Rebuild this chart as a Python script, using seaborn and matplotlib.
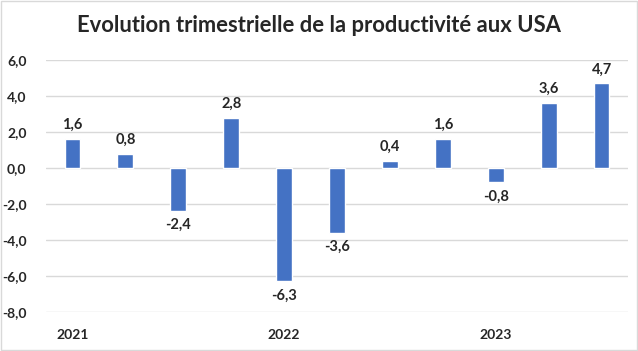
import matplotlib
matplotlib.use("Agg")
import matplotlib.pyplot as plt
import seaborn as sns
import pandas as pd

# Productivité trimestrielle USA (%)
quarters = ['T1 2021', 'T2 2021', 'T3 2021', 'T4 2021',
            'T1 2022', 'T2 2022', 'T3 2022', 'T4 2022',
            'T1 2023', 'T2 2023', 'T3 2023']
values = [1.6, 0.8, -2.4, 2.8, -6.3, -3.6, 0.4, 1.6, -0.8, 3.6, 4.7]
year_labels = ['2021', '', '', '', '2022', '', '', '', '2023', '', '']
yticks = [-8, -6, -4, -2, 0, 2, 4, 6]

df = pd.DataFrame({'Trimestre': quarters, 'Valeur': values})

sns.set_style("white")
plt.rcParams['font.family'] = ['Lato', 'DejaVu Sans']

fig = plt.figure(figsize=(6.38, 3.51), dpi=100)
ax = fig.add_axes([46 / 638, 1 - 312 / 351, 582 / 638, 252 / 351])

sns.barplot(data=df, x='Trimestre', y='Valeur', color='#4472C4',
            saturation=1, width=0.3, ax=ax, zorder=3)

ax.set_ylim(-8, 6)
ax.set_xlim(-0.5, len(quarters) - 0.5)
ax.set_yticks(yticks)
ax.set_yticklabels([f"{v:.1f}".replace('.', ',') for v in yticks],
                   fontsize=10, fontweight='bold')
ax.set_xticks(range(len(quarters)))
ax.set_xticklabels(year_labels, fontsize=10, fontweight='bold')
ax.tick_params(axis='both', length=0)
ax.tick_params(axis='x', pad=12)
ax.tick_params(axis='y', pad=14)
ax.yaxis.grid(True, color='#D9D9D9', linewidth=1, zorder=0)
ax.set_axisbelow(True)
for s in ax.spines.values():
    s.set_visible(False)
ax.set_xlabel('')
ax.set_ylabel('')

for i, v in enumerate(values):
    txt = f"{v:.1f}".replace('.', ',')
    if v >= 0:
        ax.annotate(txt, (i, v), xytext=(0, 5), textcoords='offset points',
                    ha='center', va='bottom', fontsize=10.5, fontweight='bold')
    else:
        ax.annotate(txt, (i, v), xytext=(0, -5), textcoords='offset points',
                    ha='center', va='top', fontsize=10.5, fontweight='bold')

fig.text(0.5, 1 - 25 / 351, 'Evolution trimestrielle de la productivité aux USA',
         ha='center', va='center', fontsize=15.8, fontweight='bold')

# cadre du graphique
fig.patches.append(plt.Rectangle((0.002, 0.003), 0.996, 0.994, transform=fig.transFigure,
                                 fill=False, edgecolor='#D9D9D9', linewidth=1))

fig.savefig('out.png', dpi=100)
